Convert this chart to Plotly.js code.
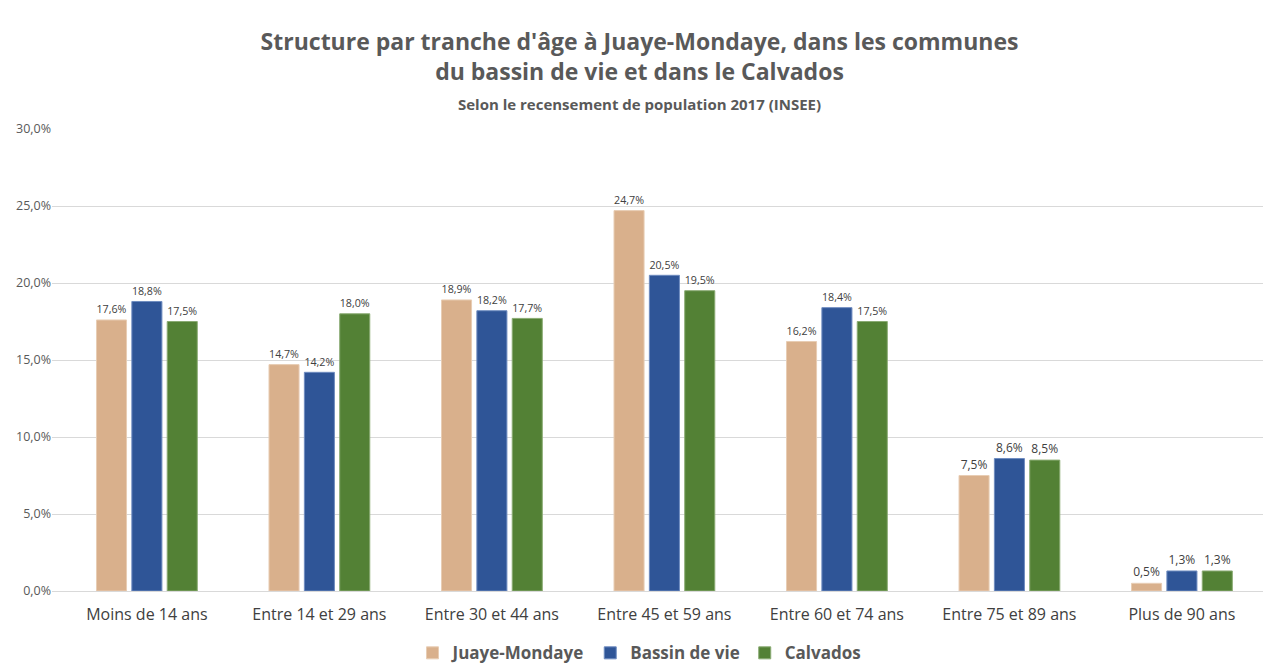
<!DOCTYPE html>
<html><head><meta charset="utf-8">
<script src="https://cdn.plot.ly/plotly-3.0.1.min.js"></script>
<style>html,body{margin:0;padding:0;background:#fff}#chart{width:1279px;height:668px}</style>
</head><body><div id="chart"></div>
<script>
var categories = ["Moins de 14 ans","Entre 14 et 29 ans","Entre 30 et 44 ans","Entre 45 et 59 ans","Entre 60 et 74 ans","Entre 75 et 89 ans","Plus de 90 ans"];
var juaye = [17.6, 14.7, 18.9, 24.7, 16.2, 7.5, 0.5];
var bassin = [18.8, 14.2, 18.2, 20.5, 18.4, 8.6, 1.3];
var calvados = [17.5, 18.0, 17.7, 19.5, 17.5, 8.5, 1.3];
var seriesNames = ["Juaye-Mondaye","Bassin de vie","Calvados"];
var colors = ["#D9B08C","#2F5597","#538135"];
var lineColors = ["#E8CDB4","#6F8CC0","#8AAB73"];
var font = "Open Sans, sans-serif";
var data = [juaye, bassin, calvados].map(function(v,i){
  return {type:"bar", name:seriesNames[i], x:[0,1,2,3,4,5,6], y:v,
    marker:{color:colors[i], line:{color:lineColors[i], width:1}},
    texttemplate:"%{y:.1f}%", textposition:"outside", cliponaxis:false,
    textfont:{family:font, size:12, color:"#404040"}};
});
var layout = {
  width:1279, height:668, paper_bgcolor:"#fff", plot_bgcolor:"#fff",
  separators:", ",
  margin:{l:52, r:16, t:129, b:77, autoexpand:false},
  barmode:"group", bargap:0.385, bargroupgap:0.15,
  title:{text:"<b>Structure par tranche d'âge à Juaye-Mondaye, dans les communes<br>du bassin de vie et dans le Calvados</b><br><span style='font-size:15px'><b>Selon le recensement de population 2017 (INSEE)</b></span>",
    font:{family:font, size:23, color:"#595959"}, x:0.5, xanchor:"center", y:0.925, yanchor:"top"},
  xaxis:{range:[-0.55,6.47], tickvals:[0,1,2,3,4,5,6], ticktext:categories, showgrid:false,
    zeroline:false, showline:true, linecolor:"#d9d9d9", linewidth:1, ticks:"", ticklabelstandoff:9,
    tickfont:{family:font, size:16, color:"#404040"}, fixedrange:true},
  yaxis:{range:[0,30], dtick:5, tickformat:".1f", ticksuffix:"%", showgrid:true, gridcolor:"#d9d9d9",
    zeroline:false, showline:false, ticks:"", ticklen:0,
    tickfont:{family:font, size:12.5, color:"#595959"}, fixedrange:true},
  showlegend:true,
  legend:{orientation:"h", x:0.5, xanchor:"center", xref:"container", y:0.022, yanchor:"middle", yref:"container",
    font:{family:font, size:17, color:"#595959", weight:"bold"}, itemwidth:22, traceorder:"normal"},
};
Plotly.newPlot("chart", data, layout, {displayModeBar:false, staticPlot:true});
</script></body></html>
